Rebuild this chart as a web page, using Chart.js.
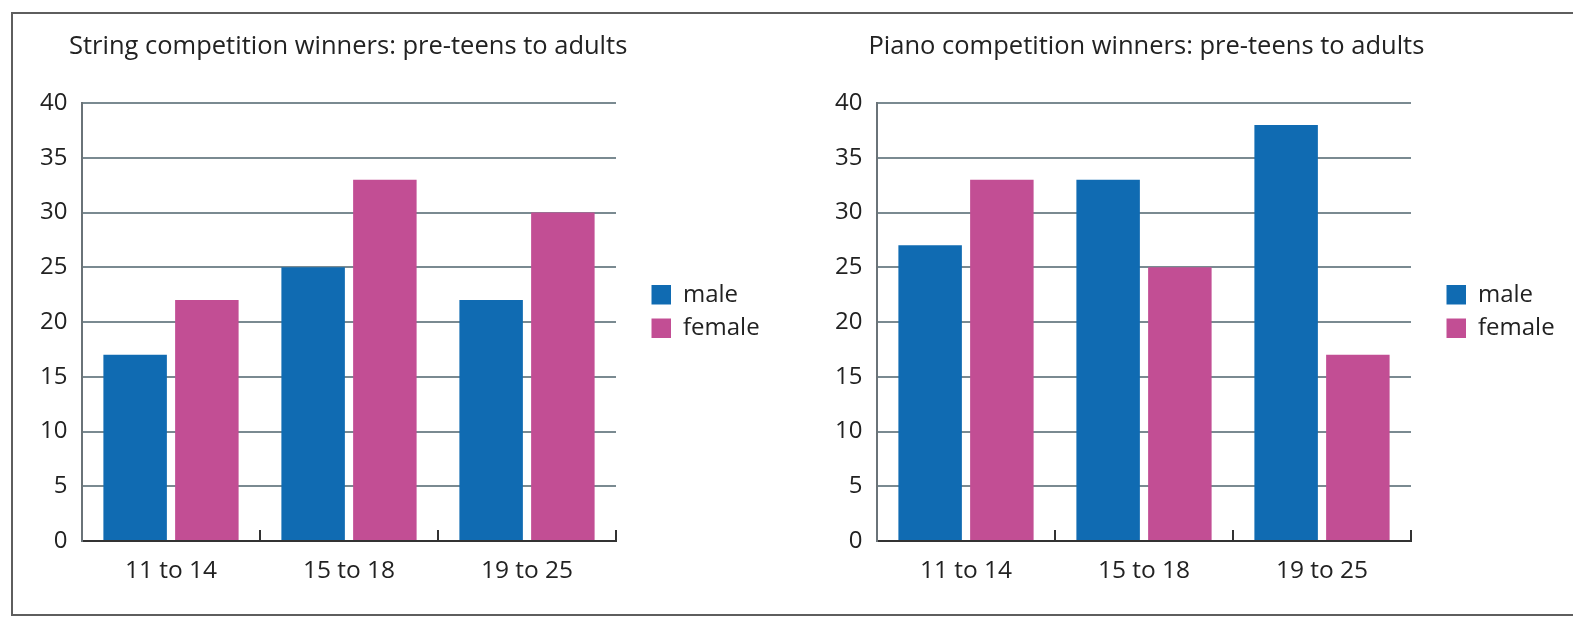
<!DOCTYPE html>
<html>
<head>
<meta charset="utf-8">
<script src="https://cdn.jsdelivr.net/npm/chart.js@4.4.1/dist/chart.umd.min.js"></script>
<style>
  html, body { margin: 0; padding: 0; background: #ffffff; }
  body { width: 1573px; height: 617px; position: relative; overflow: hidden; }
  #frame { position: absolute; left: 11px; top: 12px; width: 1620px; height: 604px; box-sizing: border-box; border: 2px solid #5e5e5e; }
  .box { position: absolute; top: 0; height: 617px; }
  #leftBox { left: 0; width: 790px; }
  #rightBox { left: 790px; width: 783px; }
</style>
</head>
<body>
<div id="frame"></div>
<div class="box" id="leftBox"><canvas id="c1"></canvas></div>
<div class="box" id="rightBox"><canvas id="c2"></canvas></div>
<script>
// ---- data ----
const categories = ['11 to 14', '15 to 18', '19 to 25'];
const seriesNames = ['male', 'female'];
const stringMale = [17, 25, 22];
const stringFemale = [22, 33, 30];
const pianoMale = [27, 33, 38];
const pianoFemale = [33, 25, 17];
const yRange = [0, 40];
const yStep = [5];
const titles = ['String competition winners: pre-teens to adults', 'Piano competition winners: pre-teens to adults'];

// ---- style ----
const FONT = '"Open Sans", "Noto Sans", sans-serif';
const BLUE = '#106bb2';
const PINK = '#c24e94';
const GRID = '#7a8a91';
const AXIS = '#333333';
const TEXT = '#222222';
const LEGEND_W = 120;

const categoryTicks = {
  id: 'categoryTicks',
  afterDatasetsDraw(chart) {
    const xs = chart.scales.x, ys = chart.scales.y, ctx = chart.ctx;
    const base = ys.getPixelForValue(0);
    ctx.save();
    ctx.strokeStyle = AXIS;
    ctx.lineWidth = 2;
    for (let i = 0; i < xs.ticks.length; i++) {
      const px = Math.round(xs.getPixelForValue(i + 0.5));
      ctx.beginPath();
      ctx.moveTo(px, base + 1);
      ctx.lineTo(px, base - 11);
      ctx.stroke();
    }
    ctx.restore();
  }
};

const boxFix = {
  id: 'boxFix',
  beforeLayout(chart) {
    const lg = chart.legend;
    if (lg && !lg._fixed) {
      const f = lg.fit.bind(lg);
      lg.fit = function () { f(); this.width = LEGEND_W; };
      lg._fixed = true;
    }
  },
  afterLayout(chart) {
    const o = chart.options.plugins.boxFix;
    const lg = chart.legend;
    lg.left += o.legendDx; lg.right += o.legendDx;
    lg.top += o.legendDy; lg.bottom += o.legendDy;
    const tb = chart.titleBlock;
    tb.left += o.titleDx; tb.right += o.titleDx;
  }
};

function makeChart(id, title, male, female, cfg) {
  return new Chart(document.getElementById(id), {
    type: 'bar',
    data: {
      labels: categories,
      datasets: [
        { label: seriesNames[0], data: male, backgroundColor: BLUE, borderWidth: 0,
          categoryPercentage: 0.806, barPercentage: 0.885 },
        { label: seriesNames[1], data: female, backgroundColor: PINK, borderWidth: 0,
          categoryPercentage: 0.806, barPercentage: 0.885 }
      ]
    },
    plugins: [categoryTicks, boxFix],
    options: {
      responsive: true,
      maintainAspectRatio: false,
      animation: false,
      events: [],
      layout: { padding: { left: cfg.padLeft, right: cfg.padRight, top: 0, bottom: 0 } },
      plugins: {
        tooltip: { enabled: false },
        boxFix: { legendDx: 26, legendDy: 3, titleDx: cfg.titleDx },
        title: {
          display: true, text: title, align: 'start', color: TEXT,
          font: { family: FONT, size: 25.5, weight: 'normal' },
          padding: { top: 31.4, bottom: 41 }
        },
        legend: {
          display: true, position: 'right', align: 'center',
          labels: {
            color: TEXT, boxWidth: 19.5, boxHeight: 19.5, padding: 9.5,
            font: { family: FONT, size: 24, weight: 'normal' }
          }
        }
      },
      scales: {
        x: {
          z: 1,
          afterFit(s) { s.height = 76; },
          grid: { display: false, drawTicks: false },
          border: { display: true, color: AXIS, width: 2 },
          ticks: { color: TEXT, padding: 15, font: { family: FONT, size: 24.5 } }
        },
        y: {
          min: yRange[0], max: yRange[1],
          afterFit(s) { s.width = cfg.yWidth; },
          grid: { color: GRID, lineWidth: 2, drawTicks: false },
          border: { display: true, color: '#6a7378', width: 2 },
          ticks: { stepSize: yStep[0], color: TEXT, padding: 14.5, font: { family: FONT, size: 24 } }
        }
      }
    }
  });
}

makeChart('c1', titles[0], stringMale, stringFemale, { padLeft: 20, yWidth: 62, titleDx: 49, padRight: 54 });
makeChart('c2', titles[1], pianoMale, pianoFemale, { padLeft: 30, yWidth: 57, titleDx: 48.5, padRight: 42 });
</script>
</body>
</html>
